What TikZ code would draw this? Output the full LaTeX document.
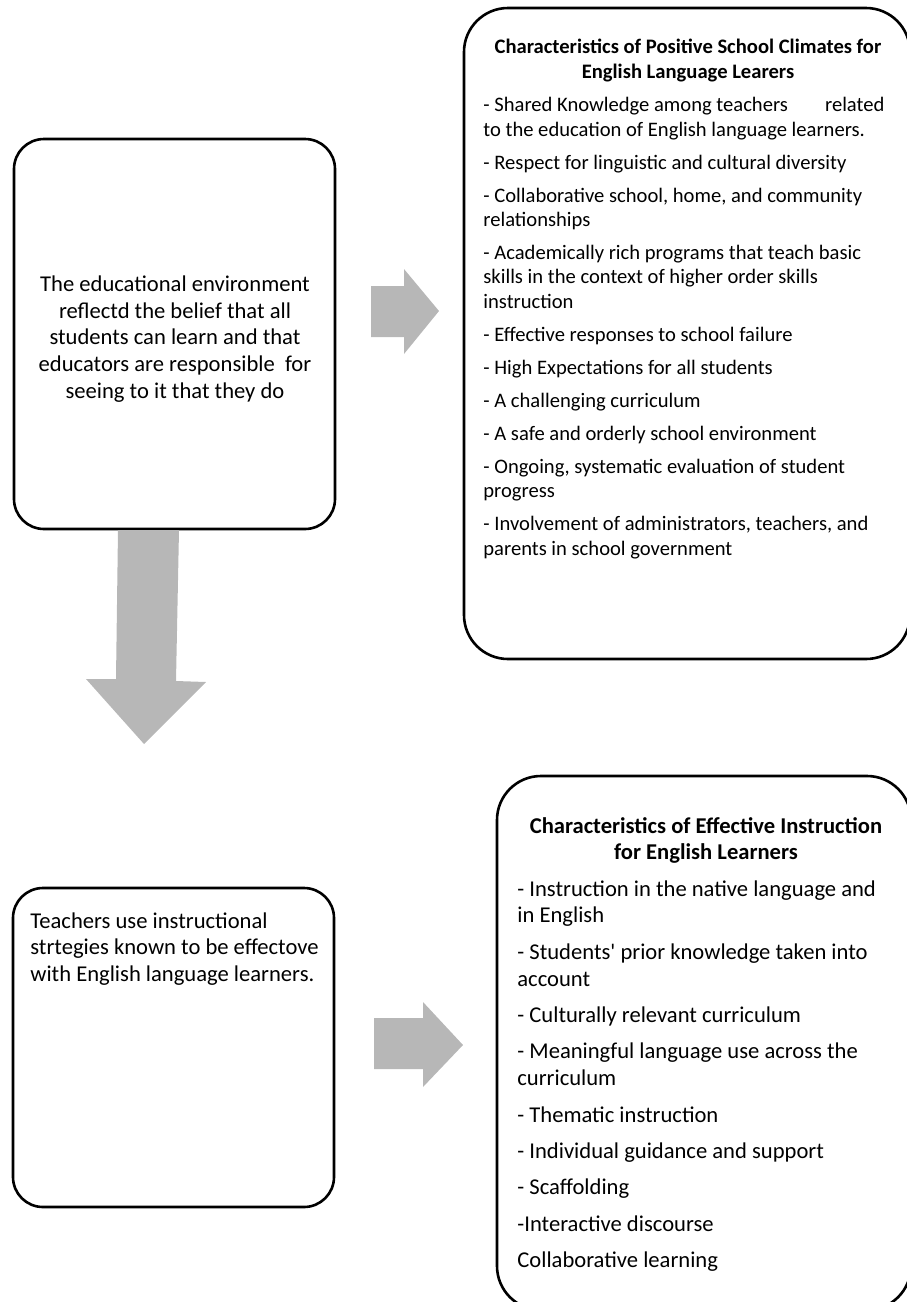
\documentclass[tikz,border=0pt]{standalone}
\usepackage{fontspec}
\setmainfont{Carlito}
\definecolor{arrowgray}{RGB}{183,183,183}
\tikzset{
  roundbox/.style={draw, line width=1.3pt, rounded corners=15pt, inner sep=0pt},
  bigbox/.style={roundbox, rounded corners=22pt},
  blockarrow/.style={fill=arrowgray},
  boxtext/.style={inner sep=0pt, align=flush left, anchor=north west},
  titletext/.style={inner sep=0pt, align=center, anchor=north},
  tentext/.style={font=\fontsize{10.3}{12.2}\selectfont},
  eleventext/.style={font=\fontsize{11.3}{13.4}\selectfont},
}
\begin{document}
\begin{tikzpicture}[x=0.5pt, y=-0.5pt]
                \useasboundingbox (0,0) rectangle (906,1302);

                \node[roundbox, minimum width=160.5pt, minimum height=195pt] (env) at (174.5,334) {};
                \node[bigbox, minimum width=223pt, minimum height=325.5pt] (climate) at (687,333.5) {};
                \node[roundbox, minimum width=160.5pt, minimum height=159.5pt] (teach) at (173.5,1047.5) {};
                \node[bigbox, minimum width=207pt, minimum height=267pt] (instr) at (704,1043) {};

                \node[eleventext, align=center, inner sep=0pt] (envtext) at (175,339) {The educational environment\\reflectd the belief that all\\students can learn and that\\educators are responsible~ for\\seeing to it that they do};

                \node[titletext, font=\bfseries\fontsize{10.3}{12.3}\selectfont] (climatetitle) at (688,39) {Characteristics of Positive School Climates for\\English Language Learers};
                \node[boxtext, tentext, text width=200.5pt] (climatelist) at (483,97) {- Shared Knowledge among teachers\hfill related\\to the education of English language learners.\\[4.3pt]
                - Respect for linguistic and cultural diversity\\[4.3pt]
                - Collaborative school, home, and community\\relationships\\[4.3pt]
                - Academically rich programs that teach basic\\skills in the context of higher order skills\\instruction\\[4.3pt]
                - Effective responses to school failure\\[4.3pt]
                - High Expectations for all students\\[4.3pt]
                - A challenging curriculum\\[4.3pt]
                - A safe and orderly school environment\\[4.3pt]
                - Ongoing, systematic evaluation of student\\progress\\[4.3pt]
                - Involvement of administrators, teachers, and\\parents in school government};

                \node[boxtext, eleventext, text width=155pt] (teachtext) at (30,912) {Teachers use instructional\\strtegies known to be effectove\\with English language learners.};

                \node[titletext, font=\bfseries\fontsize{11.3}{13.1}\selectfont] (instrtitle) at (706,817) {Characteristics of Effective Instruction\\for English Learners};
                \node[boxtext, eleventext, text width=190pt] (instrlist) at (517,880) {- Instruction in the native language and\\in English\\[4.8pt]
                - Students\textquotesingle{} prior knowledge taken into\\account\\[4.8pt]
                - Culturally relevant curriculum\\[4.8pt]
                - Meaningful language use across the\\curriculum\\[4.8pt]
                - Thematic instruction\\[4.8pt]
                - Individual guidance and support\\[4.8pt]
                - Scaffolding\\[4.8pt]
                -Interactive discourse\\[4.8pt]
                Collaborative learning};

                \fill[blockarrow] (371,286) -- (404,286) -- (404,269) -- (439,311) -- (404,354) -- (404,337) -- (371,337) -- cycle;
                \fill[blockarrow] (118,530) -- (179,530) -- (176,681) -- (206,682) -- (144,744) -- (86,679) -- (116,679) -- cycle;
                \fill[blockarrow] (374,1018) -- (423,1018) -- (423,1002) -- (463,1045) -- (423,1087) -- (423,1069) -- (374,1069) -- cycle;
            \end{tikzpicture}
\end{document}
